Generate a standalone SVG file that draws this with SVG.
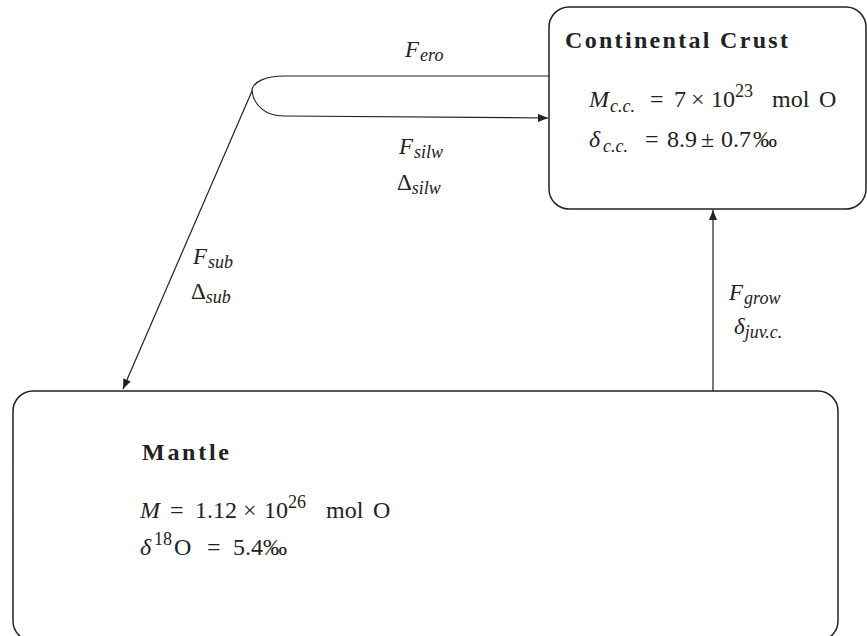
<svg xmlns="http://www.w3.org/2000/svg" width="867" height="636" viewBox="0 0 867 636">
<style>
.box{fill:none;stroke:#222;stroke-width:1.5}
.ln{fill:none;stroke:#222;stroke-width:1.2}
text{font-family:"Liberation Serif","Times New Roman",serif;fill:#222}
.t{font-size:24px;font-weight:bold}
.m{font-size:24px}
.l{font-size:23px}
.i{font-style:italic}
.s{font-size:18px;font-style:italic}
.n{font-size:18px}
</style>
<defs>
<marker id="ah" viewBox="0 0 10 8" refX="10" refY="4" markerWidth="10" markerHeight="8" markerUnits="userSpaceOnUse" orient="auto">
<path d="M0,0 L10,4 L0,8 Z" fill="#222"/>
</marker>
</defs>
<g id="crust">
<rect class="box" x="549" y="7" width="317" height="202" rx="20" ry="20"/>
<text class="t" x="565" y="48" textLength="223" lengthAdjust="spacing">Continental Crust</text>
<text class="m" y="107"><tspan class="i" x="589">M</tspan><tspan class="s" x="610" y="112">c.c.</tspan><tspan x="650" y="107">=</tspan><tspan x="674">7</tspan><tspan x="691">×</tspan><tspan x="711">10</tspan><tspan class="n" x="735" y="97">23</tspan><tspan x="772" y="107">mol</tspan><tspan x="819">O</tspan></text>
<text class="m" y="147"><tspan class="i" x="589">δ</tspan><tspan class="s" x="603" y="152">c.c.</tspan><tspan x="645" y="147">=</tspan><tspan x="667">8.9</tspan><tspan x="701">±</tspan><tspan x="721">0.7</tspan><tspan x="753">‰</tspan></text>
</g>
<g id="mantle">
<rect class="box" x="13" y="391" width="825" height="250" rx="20" ry="20"/>
<text class="t" x="142" y="460" textLength="87" lengthAdjust="spacing">Mantle</text>
<text class="m" y="518"><tspan class="i" x="140">M</tspan><tspan x="170">=</tspan><tspan x="195">1.12</tspan><tspan x="243">×</tspan><tspan x="264">10</tspan><tspan class="n" x="288" y="508">26</tspan><tspan x="326" y="518">mol</tspan><tspan x="373">O</tspan></text>
<text class="m" y="555"><tspan class="i" x="140">δ</tspan><tspan class="n" x="154" y="545">18</tspan><tspan x="174" y="555">O</tspan><tspan x="207">=</tspan><tspan x="233">5.4</tspan><tspan x="263">‰</tspan></text>
</g>
<g id="connectors">
<path class="ln" d="M549,76 L284,76 C266,76 252,82 252,91 C254,106 266,116 284,116 L548,118" marker-end="url(#ah)"/>
<path class="ln" d="M252,91 L123,389" marker-end="url(#ah)"/>
<path class="ln" d="M713,391 L713,210" marker-end="url(#ah)"/>
</g>
<g id="labels">
<text class="l" x="405" y="57"><tspan class="i">F</tspan><tspan class="s" dy="4" dx="1">ero</tspan></text>
<text class="l" x="399" y="154"><tspan class="i">F</tspan><tspan class="s" dy="4" dx="1">silw</tspan></text>
<text class="l" x="397" y="190">Δ<tspan class="s" dy="4">silw</tspan></text>
<text class="l" x="193" y="264"><tspan class="i">F</tspan><tspan class="s" dy="4" dx="1">sub</tspan></text>
<text class="l" x="191" y="299">Δ<tspan class="s" dy="4">sub</tspan></text>
<text class="l" x="729" y="300"><tspan class="i">F</tspan><tspan class="s" dy="4" dx="1">grow</tspan></text>
<text class="l" x="734" y="334"><tspan class="i">δ</tspan><tspan class="s" dy="4">juv.c.</tspan></text>
</g>
</svg>
